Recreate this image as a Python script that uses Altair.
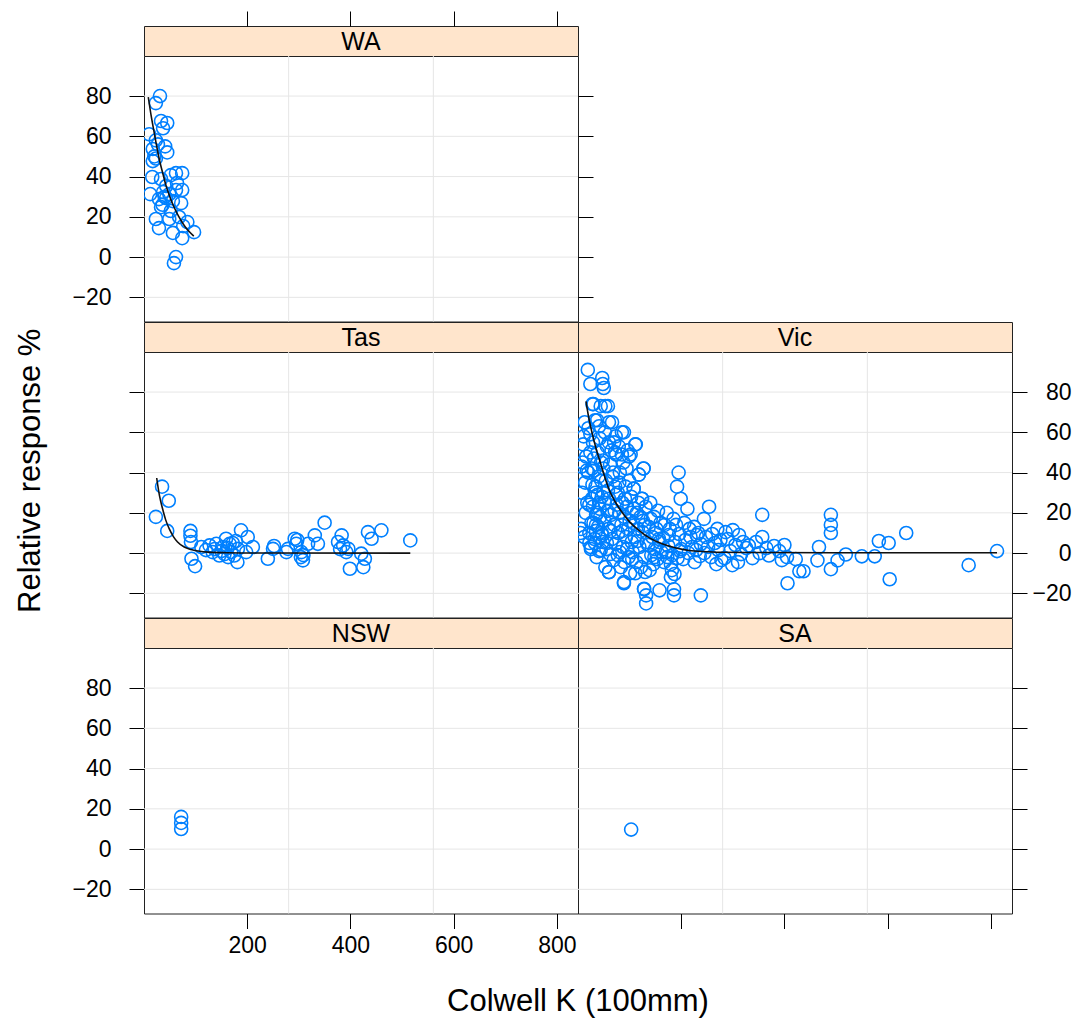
import altair as alt
import pandas as pd

FONT = "Liberation Sans"

# ---------------- data ----------------
x_ticks = [200, 400, 600, 800]
y_ticks = [-20, 0, 20, 40, 60, 80]
x_domain = [0, 841]
y_domain = [-32.0, 99.9]
v_grid = [280.3, 560.7]

wa_pts = [(31, 80), (23, 76.5), (10, 61), (23, 58), (33, 67.6), (45, 66.6), (37, 64), (27, 56),
          (41, 55), (17, 53.7), (45, 52), (23, 49), (17, 47.7), (62, 41.7), (74, 41.7), (52, 40.7),
          (16, 39.8), (33, 38.8), (64, 36.8), (43, 35.3), (12, 31.3), (62, 33.3), (74, 33.3),
          (37, 32.3), (49, 31.3), (29, 28.8), (43, 29.3), (56, 27.8), (72, 26.8), (33, 24.8),
          (52, 22.9), (23, 18.9), (49, 18.9), (68, 19.9), (84, 17.4), (29, 14.4), (76, 15.4),
          (56, 12), (97, 12.4), (74, 9.4), (62, 0), (58, -3), (36, 26), (20, 50), (40, 30)]
wa_curve = [(8.3, 79.5), (14, 70), (20, 61.5), (25, 54.5), (29.7, 48.5), (36, 42), (42.7, 35.5),
            (50, 30), (58.8, 24.5), (68, 19.8), (78.3, 15.6), (87, 12.8), (96.5, 10.4)]

tas_pts = [(35, 33), (48, 26), (23, 18), (45, 11), (90, 11), (90, 8.6), (91, 5.5), (92, -2.8),
           (99, -6.5), (111, 3), (127, 3.8), (133, 0.5), (140, 4.6), (146, -1.2), (153, 3),
           (159, 7.1), (166, 4.6), (169, 0.5), (175, -1.2), (182, 2.1), (181, -4.5), (188, 11.3),
           (201, 8), (211, 3), (198, 0.5), (240, -2.8), (250, 2.1), (276, 0.5), (279, 2.1),
           (292, 7.1), (295, 4.6), (305, 0.5), (308, -3.6), (318, 4.6), (331, 8.8), (337, 4.6),
           (350, 15.1), (376, 5.5), (383, 8.8), (386, 3.8), (396, 2.1), (399, -7.8), (421, -0.3),
           (425, -7), (428, -2.8), (434, 10.4), (441, 7.1), (460, 11.3), (516, 6.3), (150, 1),
           (162, 2.5), (172, 5), (120, 1.5), (156, -0.5), (178, 6), (163, -2), (137, 2),
           (252, 3.5), (304, -2), (380, 2), (392, 0.5), (297, 6.5), (309, -1)]
tas_curve = [(24.6, 37.3), (30, 28.5), (36, 22), (42, 16.5), (49, 12), (57, 8.2), (65, 5.5),
             (78, 3), (91, 1.8), (108, 0.9), (124, 0.5), (160, 0.2), (220, 0.05), (516, 0)]

vic_pts = [
    # outlying points
    (19, 91), (24, 84), (47, 87), (48, 84), (28, 74), (53, 73), (13, 65), (37, 66), (60, 65),
    (24, 59), (89, 60), (111, 54), (60, 55), (72, 50), (85, 49), (99, 48), (17, 41), (27, 42),
    (127, 42), (118, 39), (195, 40), (192, 33), (34, 30), (108, 32), (124, 27), (199, 27),
    (212, 22), (254, 23), (244, 17), (357, 19), (490, 19), (490, 14), (490, 10), (636, 10),
    (583, 6), (602, 5), (467, 3), (357, 8), (812, 1), (757, -6), (604, -13), (406, -15),
    (238, -21), (132, -25), (132, -21), (128, -18), (158, -18.5), (186, -21), (186, -18),
    (89, -15), (60, -9.5), (111, -10), (180, -12), (182, -8.5), (180, -5.5), (429, -9),
    (437, -9), (490, -8), (503, -3.6), (519, -0.7), (550, -1.6), (575, -1.6), (422, -3),
    (464, -3.6),
    # dense cloud, x 4-47
    (10, 54), (20, 40), (8, 30), (15, 20), (6, 12), (12, 8), (22, 5), (25, 3), (18, 25),
    (9, 45), (14, 35), (26, 15), (5, 10), (28, 34), (22, 24), (35, 19), (22, 10), (32, 7),
    (25, 2), (41, 1), (48, 5.5), (35, 14), (41, 25), (16, 48), (11, 58), (20, 62), (7, 43),
    (24, 50), (30, 74), (44, 73), (33, 66), (41, 63), (29, 55), (38, 50), (45, 45), (31, 41),
    (40, 38), (34, 33), (46, 28), (29, 23), (37, 20), (43, 18), (30, 15), (39, 13), (46, 10),
    (33, 5), (44, 1.5), (36, -2), (42, 57), (31, 47), (45, 36), (38, 29), (27, 27), (42, 22),
    (35, 11), (41, 8),
    # x 47-105
    (50, 82), (58, 73), (66, 65), (52, 60), (70, 55), (56, 53), (74, 49), (48, 46), (62, 44),
    (68, 40), (54, 36), (72, 33), (49, 30), (60, 27), (75, 24), (57, 21), (64, 19), (51, 16),
    (70, 14), (59, 12), (47, 9), (66, 7), (73, 4.5), (55, 2), (62, -0.5), (69, -3.5), (53, -7),
    (60, -9.4), (67, 38), (58, 31), (52, 25), (71, 21), (63, 11), (56, 5), (74, 29), (49, 42),
    (65, 51), (73, 58), (85, 60), (79, 53), (96, 51), (102, 49), (88, 45), (81, 40), (99, 36),
    (92, 33), (77, 30), (103, 28), (86, 25), (95, 23), (80, 20), (90, 18), (100, 16), (84, 14),
    (97, 12), (78, 10), (93, 8), (104, 5.5), (87, 3), (81, 0.5), (98, -2), (90, -4.5), (83, -7),
    (101, -10), (89, -14.4), (94, 42), (80, 35), (91, 27), (104, 20), (86, 11), (95, 2), (77, -1),
    # x 105-202
    (112, 54), (127, 42), (118, 39), (108, 32), (124, 27), (131, 23), (114, 20), (121, 18),
    (107, 15), (129, 14), (116, 12), (125, 10.4), (110, 8), (133, 5.5), (119, 3), (106, 0.5),
    (128, -2), (113, -4.5), (122, -7), (130, -9.4), (128, -17.7), (117, 25), (109, 22),
    (126, 16), (115, 6), (105, -3), (140, 25), (155, 21), (147, 18), (160, 15), (137, 13),
    (151, 10), (144, 8), (158, 5.5), (136, 4), (149, 2), (162, 0.5), (142, -1), (154, -3),
    (146, -5.5), (139, -8.5), (152, 12), (141, 17), (157, 7), (148, -2), (172, 20), (185, 17),
    (168, 14), (178, 12), (196, 9.5), (165, 7.5), (188, 5.5), (175, 3.5), (200, 2), (170, 0.5),
    (183, -1), (193, -2.5), (167, -4.5), (187, -10.4), (176, 9), (190, 14), (198, 1), (173, -2),
    # x 202-405
    (206, 15), (225, 13), (233, 10), (218, 8), (208, 6.5), (238, 4.5), (221, 3), (229, 1.5),
    (214, 0), (236, -1.5), (204, -3), (226, -4.5), (230, 9), (216, 12), (270, 12), (260, 9.5),
    (248, 8), (276, 6.5), (265, 5), (252, 3), (272, 1.5), (245, 0), (258, -2), (278, -3.5),
    (268, -5.5), (286, 10.4), (300, 11.4), (312, 9), (290, 7), (320, 5.5), (305, 4), (326, 2.5),
    (295, 1), (316, -0.5), (284, -2.5), (299, -6), (310, -4.5), (331, 3.8), (345, 5.5),
    (380, 3.5), (365, 2.5), (390, 1), (352, 0), (370, -1.2), (338, -2.5), (395, -3.5),
    (400, 4), (405, -2)]
vic_curve = [(15.5, 75.4), (21, 67), (27, 60), (35, 52), (43, 45.2), (51, 38.5), (59.6, 32),
             (72, 25.5), (85, 20.4), (100, 15.5), (118, 11.3), (140, 7.3), (163, 4.6), (190, 2.5),
             (215, 1.3), (250, 0.7), (280, 0.4), (350, 0.3), (500, 0.2), (812, 0.2)]

nsw_pts = [(72, 16), (72, 13), (72, 10)]
sa_pts = [(103, 9.7)]

y_title = "Relative response %"
x_title = "Colwell K (100mm)"

# ---------------- layout ----------------
W = 434
H = 265.5
SH = 30
BORDER = "#222222"


def xs():
    return alt.Scale(domain=x_domain, nice=False, zero=False)


def ys():
    return alt.Scale(domain=y_domain, nice=False, zero=False)


def y_axis(orient, labels):
    extra = {"labelAlign": "right", "labelPadding": 44} if orient == "right" else {"labelPadding": 18}
    return alt.Axis(orient=orient, values=y_ticks, labels=labels, ticks=True, tickSize=15,
                    tickColor="black", tickWidth=1, domain=False, grid=False, title=None,
                    labelFont=FONT, labelFontSize=23, labelColor="black", **extra)


def x_axis(orient, labels):
    return alt.Axis(orient=orient, values=x_ticks, labels=labels, ticks=True, tickSize=15,
                    tickColor="black", tickWidth=1, domain=False, grid=False, title=None,
                    labelFont=FONT, labelFontSize=23, labelColor="black", labelPadding=6)


def df_of(pairs):
    return pd.DataFrame({"x": [p[0] for p in pairs], "y": [p[1] for p in pairs]})


def text_layer(txt, x, y, angle=0):
    kw = {"angle": angle} if angle else {}
    return alt.Chart(pd.DataFrame({"t": [txt]})).mark_text(
        font=FONT, fontSize=31, color="black", align="center", baseline="middle", **kw).encode(
        text="t:N", x=alt.value(x), y=alt.value(y))


def panel(pts, curve=None, left=None, right=None, bottom=None, extra=None):
    hg = alt.Chart(pd.DataFrame({"v": y_ticks})).mark_rule(color="#e6e6e6", strokeWidth=1).encode(
        y=alt.Y("v:Q", scale=ys(), axis=y_axis("left", left == "labels") if left else None))
    vg = alt.Chart(pd.DataFrame({"g": v_grid})).mark_rule(color="#e6e6e6", strokeWidth=1).encode(
        x=alt.X("g:Q", scale=xs(), axis=x_axis("bottom", bottom == "labels") if bottom else None))
    pt = alt.Chart(df_of(pts)).mark_point(shape="circle", filled=False, color="#0080ff", size=170,
                                          strokeWidth=1.6, opacity=1, clip=True).encode(
        x=alt.X("x:Q", scale=xs(), axis=None),
        y=alt.Y("y:Q", scale=ys(), axis=y_axis("right", right == "labels") if right else None))
    layers = [hg, vg, pt]
    if curve is not None:
        ln = alt.Chart(df_of(curve)).mark_line(color="#111111", strokeWidth=1.6,
                                               interpolate="monotone", clip=True).encode(
            x=alt.X("x:Q", scale=xs(), axis=None),
            y=alt.Y("y:Q", scale=ys(), axis=None))
        layers.append(ln)
    if extra is not None:
        layers.append(extra)
    return alt.layer(*layers).resolve_scale(x="independent", y="independent").properties(
        width=W, height=H, view=alt.ViewBackground(stroke=BORDER, strokeWidth=1, fill="white"))


def strip(name, top_ticks=False):
    txt = alt.Chart(pd.DataFrame({"t": [name]})).mark_text(
        font=FONT, fontSize=25, color="black", align="center", baseline="middle", dy=1).encode(
        text="t:N", x=alt.value(W / 2), y=alt.value(SH / 2))
    layers = [txt]
    if top_ticks:
        ax = alt.Chart(pd.DataFrame({"v": [x_ticks[0]]})).mark_point(opacity=0).encode(
            x=alt.X("v:Q", scale=xs(), axis=x_axis("top", False)))
        layers.append(ax)
    return alt.layer(*layers).properties(
        width=W, height=SH, view=alt.ViewBackground(fill="#ffe5cc", stroke=BORDER, strokeWidth=1))


def blank(h):
    return alt.Chart(pd.DataFrame({"a": [0]})).mark_point(opacity=0).properties(
        width=W, height=h, view=alt.ViewBackground(stroke="transparent"))


items = [
    strip("WA", top_ticks=True), blank(SH),
    panel(wa_pts, wa_curve, left="labels", right="ticks"), blank(H),
    strip("Tas"), strip("Vic"),
    panel(tas_pts, tas_curve, left="ticks",
          extra=text_layer(y_title, -113, H / 2 - 14, angle=270)),
    panel(vic_pts, vic_curve, right="labels"),
    strip("NSW"), strip("SA"),
    panel(nsw_pts, left="labels", bottom="labels",
          extra=text_layer(x_title, W, H + 88.5)),
    panel(sa_pts, right="ticks", bottom="ticks"),
]

chart = alt.concat(*items, columns=2, spacing=0, bounds="flush").properties(
    padding={"left": 6, "top": 2, "right": 5, "bottom": 0},
    background="white",
).configure_view(stroke="transparent")

chart.save("out.html", embed_options={"renderer": "svg", "actions": False})
